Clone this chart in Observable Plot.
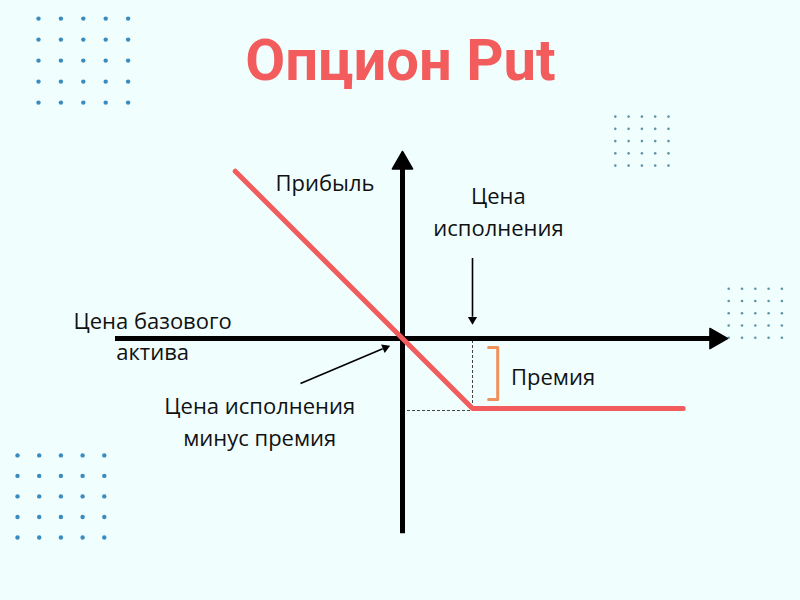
<!DOCTYPE html>
<html>
<head>
<meta charset="utf-8">
<script src="https://cdn.jsdelivr.net/npm/d3@7"></script>
<script src="https://cdn.jsdelivr.net/npm/@observablehq/plot@0.6"></script>
<style>
  html, body { margin: 0; padding: 0; background: #f0fefe; }
  #chart { width: 800px; height: 600px; }
</style>
</head>
<body>
<div id="chart"></div>
<script>
// ---- data (in chart units: 1 unit = strike price) ----
const title = "Опцион Put";
const strike = 1;
const premium = 1;
const spotPrices = [-2.39, 1, 4.01];     // underlying price
const profitValues = [2.39, -1, -1];     // profit of the long put
const xAxisRange = [-4.1, 4.64];
const yAxisRange = [-2.79, 2.67];

const labelTexts = ["Прибыль", "Цена\nисполнения", "Цена базового\nактива", "Цена исполнения\nминус премия", "Премия"];
const labelX = [-0.4, 1.37, -3.57, -2.04, 1.55];
const labelY = [2.26, 1.84, 0.06, -1.16, -0.52];
const labelAnchor = ["end", "middle", "middle", "middle", "start"];

// decorative dot grids
const gridX0 = [-5.2, -5.5, 3.04, 4.66];
const gridDX = [0.32, 0.31, 0.19, 0.19];
const gridY0 = [4.57, -1.67, 3.17, 0.71];
const gridDY = [-0.3, -0.293, -0.175, -0.175];
const gridR = [2.2, 2.2, 1.3, 1.3];
const gridColor = ["#3a8cc0", "#3a8cc0", "#5f94a8", "#5f94a8"];

// ---- derived tables ----
const payoff = spotPrices.map((s, i) => ({s, p: profitValues[i]}));
const labels = labelTexts.map((t, i) => ({t, x: labelX[i], y: labelY[i], a: labelAnchor[i]}));
const dots = [];
gridX0.forEach((x0, g) => {
  for (let i = 0; i < 5; i++) for (let j = 0; j < 5; j++)
    dots.push({x: x0 + i * gridDX[g], y: gridY0[g] + j * gridDY[g], r: gridR[g], c: gridColor[g]});
});

const U = 70; // px per unit
const W = 800, H = 600, X0 = 402, Y0 = 338;

// annotation arrows: from label to target
const arrows = [
  {x1: strike, y1: 1.15, x2: strike, y2: 0.19},
  {x1: -1.457, y1: -0.643, x2: -0.171, y2: -0.1}
];
const headLen = 8.5 / U;
const arrowHeads = arrows.map(a => {
  const dx = a.x2 - a.x1, dy = a.y2 - a.y1, L = Math.hypot(dx, dy);
  const ux = dx / L, uy = dy / L;
  return {x: a.x2 - ux * headLen * 2 / 3, y: a.y2 - uy * headLen * 2 / 3,
          rot: Math.atan2(dx, dy) * 180 / Math.PI,
          bx: a.x2 - ux * headLen, by: a.y2 - uy * headLen, x1: a.x1, y1: a.y1};
});
const bigHead = 17.3 / U;
const axisHeads = [
  {x: xAxisRange[1] - bigHead * 2 / 3, y: 0, rot: 90},
  {x: 0, y: yAxisRange[1] - bigHead * 2 / 3, rot: 0}
];

const bracketInset = 0.13;
const bracket = [
  {x: 1.23, y: -bracketInset},
  {x: 1.36, y: -bracketInset},
  {x: 1.36, y: -premium + bracketInset},
  {x: 1.23, y: -premium + bracketInset}
];

const red = "#f25c5c";
const labelStyle = {x: "x", y: "y", text: "t", fontSize: 22, lineHeight: 1.45, fill: "#111"};

const chart = Plot.plot({
  width: W, height: H,
  margin: 0,
  style: {background: "#f0fefe", fontFamily: "'Open Sans', sans-serif", color: "#111"},
  x: {domain: [-X0 / U, (W - X0) / U], axis: null},
  y: {domain: [-(H - Y0) / U, Y0 / U], axis: null},
  r: {type: "identity"},
  marks: [
    Plot.dot(dots, {x: "x", y: "y", r: "r", fill: "c", stroke: null}),
    Plot.text([title], {frameAnchor: "top", lineAnchor: "middle", dy: 61, text: d => d, fontSize: 58, fontWeight: 700, fontFamily: "Roboto", fill: red}),
    // dashed guides
    Plot.ruleX([strike], {y1: -premium, y2: 0, stroke: "#444", strokeWidth: 1, strokeDasharray: "3,2"}),
    Plot.ruleY([-premium], {x1: 0, x2: strike, dy: 2, stroke: "#444", strokeWidth: 1, strokeDasharray: "3,2"}),
    // axes
    Plot.ruleY([0], {x1: xAxisRange[0], x2: xAxisRange[1] - bigHead * 0.7, stroke: "#000", strokeWidth: 5}),
    Plot.ruleX([0], {y1: yAxisRange[0], y2: yAxisRange[1] - bigHead * 0.7, stroke: "#000", strokeWidth: 5}),
    Plot.dot(axisHeads, {x: "x", y: "y", symbol: "triangle", r: 7.5, rotate: "rot", fill: "#000", stroke: "#000", strokeWidth: 1.5, strokeLinejoin: "round"}),
    // annotation arrows
    Plot.link(arrowHeads, {x1: "x1", y1: "y1", x2: "bx", y2: "by", stroke: "#000", strokeWidth: 1.6}),
    Plot.dot(arrowHeads, {x: "x", y: "y", symbol: "triangle", r: 3.4, rotate: "rot", fill: "#000", stroke: null}),
    // payoff
    Plot.line(payoff, {x: "s", y: "p", stroke: red, strokeWidth: 5, strokeLinejoin: "miter"}),
    // premium bracket
    Plot.line(bracket, {x: "x", y: "y", stroke: "#f0915c", strokeWidth: 3, strokeLinecap: "round", strokeLinejoin: "round"}),
    // labels
    Plot.text(labels.filter(d => d.a === "end"), {...labelStyle, textAnchor: "end"}),
    Plot.text(labels.filter(d => d.a === "middle"), {...labelStyle, textAnchor: "middle"}),
    Plot.text(labels.filter(d => d.a === "start"), {...labelStyle, textAnchor: "start"})
  ]
});
document.getElementById("chart").appendChild(chart);
</script>
</body>
</html>
